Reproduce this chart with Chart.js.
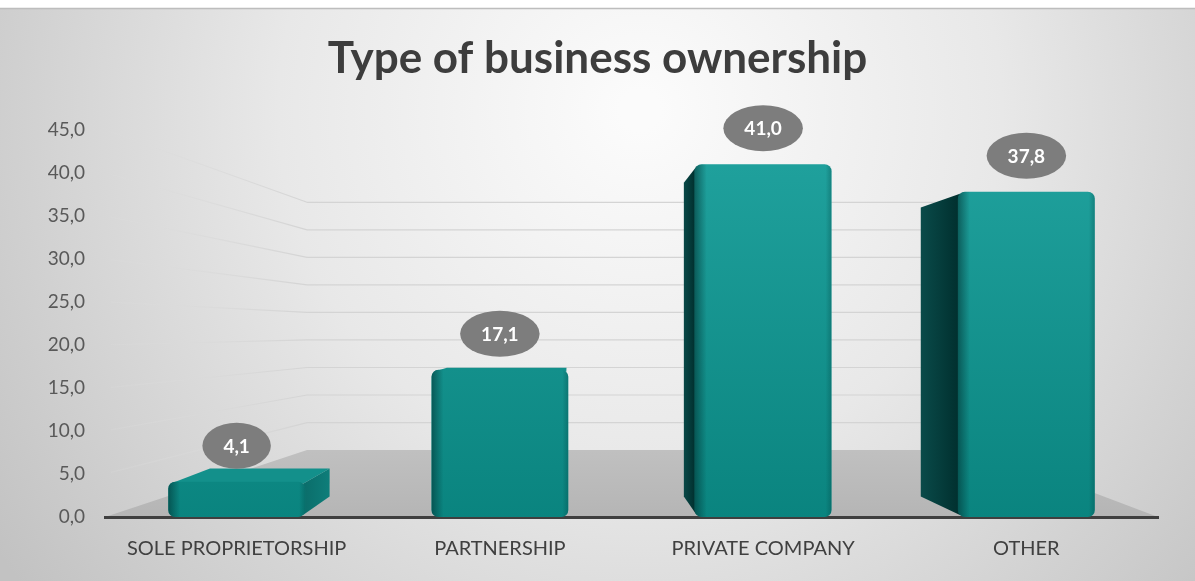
<!DOCTYPE html>
<html>
<head>
<meta charset="utf-8">
<title>Type of business ownership</title>
<script src="https://cdn.jsdelivr.net/npm/chart.js@4.4.1/dist/chart.umd.min.js"></script>
<style>
  html, body { margin: 0; padding: 0; background: #ffffff; }
  #wrap { position: relative; width: 1195px; height: 581px; }
  canvas { display: block; }
</style>
</head>
<body>
<div id="wrap"><canvas id="chart" width="1195" height="581"></canvas></div>
<script>
// Ownership categories and their shares (%)
const categories = ['SOLE PROPRIETORSHIP', 'PARTNERSHIP', 'PRIVATE COMPANY', 'OTHER'];
const shares = [4.1, 17.1, 41.0, 37.8];

// Value axis range
const axisMin = 0;
const axisMax = 45;
const axisStep = 5;

const FONT = 'Lato, "Open Sans", sans-serif';
const fmt = v => Number(v).toFixed(1).replace('.', ',');

// Perspective helpers: walls and bar depth are projected toward
// vanishing points placed inside the plot area.
function vanishingPoint(area, fx) {
  return {
    x: area.left + fx * (area.right - area.left),
    y: area.top + 0.52 * (area.bottom - area.top)
  };
}
function toward(vp, x, y, t) {
  return { x: x + t * (vp.x - x), y: y + t * (vp.y - y) };
}
const WALL_VP = 0.533;
const BAR_VP = 0.44;
const WALL_DEPTH = 0.36;
const BAR_DEPTH = 0.1;

// Backdrop, floor and back-wall gridlines
const stagePlugin = {
  id: 'stage',
  beforeDraw(chart) {
    const { ctx, chartArea: a, width, height } = chart;
    const yScale = chart.scales.y;
    ctx.save();
    // soft radial backdrop
    const g = ctx.createRadialGradient(640, 110, 20, 640, 110, 780);
    g.addColorStop(0, '#fbfbfb');
    g.addColorStop(0.45, '#e8e8e8');
    g.addColorStop(1, '#c2c2c2');
    ctx.fillStyle = g;
    ctx.fillRect(0, 8, width, height - 8);
    ctx.fillStyle = '#ffffff';
    ctx.fillRect(0, 0, width, 8);
    ctx.strokeStyle = '#bdbdbd';
    ctx.lineWidth = 1.5;
    ctx.beginPath();
    ctx.moveTo(0, 8.5);
    ctx.lineTo(width, 8.5);
    ctx.stroke();

    const vp = vanishingPoint(a, WALL_VP);
    const bl = toward(vp, a.left, a.bottom, WALL_DEPTH);
    const br = toward(vp, a.right, a.bottom, WALL_DEPTH);

    // floor
    const fg = ctx.createLinearGradient(0, bl.y, 0, a.bottom);
    fg.addColorStop(0, '#c0c0c0');
    fg.addColorStop(1, '#b5b5b5');
    ctx.fillStyle = fg;
    ctx.beginPath();
    ctx.moveTo(a.left, a.bottom);
    ctx.lineTo(a.right, a.bottom);
    ctx.lineTo(br.x, br.y);
    ctx.lineTo(bl.x, bl.y);
    ctx.closePath();
    ctx.fill();

    // gridlines: slanted along the side wall, then flat across the back wall
    ctx.lineWidth = 1.2;
    for (let v = axisMin + axisStep; v <= axisMax; v += axisStep) {
      const yf = yScale.getPixelForValue(v);
      const back = toward(vp, a.left, yf, WALL_DEPTH);
      const lg = ctx.createLinearGradient(a.left, 0, back.x, 0);
      lg.addColorStop(0, 'rgba(222,222,222,0.15)');
      lg.addColorStop(1, 'rgba(212,212,212,1)');
      ctx.strokeStyle = lg;
      ctx.beginPath();
      ctx.moveTo(a.left + 6, yf + (back.y - yf) * 6 / (back.x - a.left));
      ctx.lineTo(back.x, back.y);
      ctx.stroke();
      ctx.strokeStyle = 'rgba(212,212,212,1)';
      ctx.beginPath();
      ctx.moveTo(back.x, back.y);
      ctx.lineTo(br.x, back.y);
      ctx.stroke();
    }
    ctx.restore();
  }
};

// Side and top faces of each bar, projected toward the vanishing point
const depthPlugin = {
  id: 'depth',
  beforeDatasetsDraw(chart) {
    const { ctx, chartArea: a } = chart;
    const vp = vanishingPoint(a, BAR_VP);
    const meta = chart.getDatasetMeta(0);
    ctx.save();
    meta.data.forEach(bar => {
      const { x, y, base, width } = bar.getProps(['x', 'y', 'base', 'width'], true);
      const x0 = x - width / 2, x1 = x + width / 2;
      const yTop = Math.min(y, base), yBot = Math.max(y, base);
      const face = (p1, p2, fill) => {
        const q1 = toward(vp, p1.x, p1.y, BAR_DEPTH);
        const q2 = toward(vp, p2.x, p2.y, BAR_DEPTH);
        ctx.fillStyle = fill;
        ctx.beginPath();
        ctx.moveTo(p1.x, p1.y);
        ctx.lineTo(p2.x, p2.y);
        ctx.lineTo(q2.x, q2.y);
        ctx.lineTo(q1.x, q1.y);
        ctx.closePath();
        ctx.fill();
      };
      if (x0 > vp.x) {
        const sg = ctx.createLinearGradient(x0, 0, toward(vp, x0, yTop, BAR_DEPTH).x, 0);
        sg.addColorStop(0, '#01302f');
        sg.addColorStop(1, '#0a4c4b');
        face({ x: x0 + 2, y: yTop + 2 }, { x: x0 + 2, y: yBot - 2 }, sg);
      } else if (x1 < vp.x) {
        const sg = ctx.createLinearGradient(x1, 0, toward(vp, x1, yTop, BAR_DEPTH).x, 0);
        sg.addColorStop(0, '#0b6e6b');
        sg.addColorStop(1, '#0e7f7b');
        face({ x: x1 - 2, y: yTop + 2 }, { x: x1 - 2, y: yBot - 2 }, sg);
      }
      if (yTop > vp.y) {
        face({ x: x0 + 2, y: yTop + 2 }, { x: x1 - 2, y: yTop + 2 }, '#13908b');
      }
    });
    ctx.restore();
  },
  afterDatasetsDraw(chart) {
    const { ctx } = chart;
    const meta = chart.getDatasetMeta(0);
    ctx.save();
    // rounded-edge shading on the front faces
    meta.data.forEach(bar => {
      const { x, y, base, width } = bar.getProps(['x', 'y', 'base', 'width'], true);
      const x0 = x - width / 2;
      const h = Math.abs(base - y);
      ctx.save();
      ctx.beginPath();
      ctx.roundRect(x0, Math.min(y, base), width, h, 7);
      ctx.clip();
      const eg = ctx.createLinearGradient(x0, 0, x0 + 12, 0);
      eg.addColorStop(0, 'rgba(0,45,45,0.55)');
      eg.addColorStop(1, 'rgba(0,45,45,0)');
      ctx.fillStyle = eg;
      ctx.fillRect(x0, Math.min(y, base), 12, h);
      const rg = ctx.createLinearGradient(x0 + width - 6, 0, x0 + width, 0);
      rg.addColorStop(0, 'rgba(0,60,60,0)');
      rg.addColorStop(1, 'rgba(0,60,60,0.3)');
      ctx.fillStyle = rg;
      ctx.fillRect(x0 + width - 6, Math.min(y, base), 6, h);
      ctx.restore();
    });
    // value bubbles above the bars
    ctx.font = 'bold 19px ' + FONT;
    ctx.textAlign = 'center';
    ctx.textBaseline = 'middle';
    meta.data.forEach((bar, i) => {
      const { x, y } = bar.getProps(['x', 'y'], true);
      const label = fmt(shares[i]);
      const cy = y - 36;
      const rx = ctx.measureText(label).width / 2 + 21;
      ctx.fillStyle = '#7d7d7d';
      ctx.beginPath();
      ctx.ellipse(x, cy, rx, 23, 0, 0, Math.PI * 2);
      ctx.fill();
      ctx.fillStyle = '#ffffff';
      ctx.fillText(label, x, cy + 1);
    });
    ctx.restore();
  }
};

const ctx = document.getElementById('chart').getContext('2d');
new Chart(ctx, {
  type: 'bar',
  data: {
    labels: categories,
    datasets: [{
      data: shares,
      backgroundColor(c) {
        const a = c.chart.chartArea;
        if (!a) return '#0f8a86';
        const g = c.chart.ctx.createLinearGradient(0, a.top, 0, a.bottom);
        g.addColorStop(0, '#21a39f');
        g.addColorStop(1, '#0a847f');
        return g;
      },
      borderRadius: 7,
      borderSkipped: false,
      categoryPercentage: 1,
      barPercentage: 0.52
    }]
  },
  options: {
    responsive: false,
    animation: false,
    layout: { padding: { left: 37, right: 37, top: 0, bottom: 0 } },
    plugins: {
      legend: { display: false },
      tooltip: { enabled: false },
      title: {
        display: true,
        text: 'Type of business ownership',
        color: '#3d3d3d',
        font: { family: FONT, size: 44, weight: 'bold' },
        padding: { top: 32, bottom: 45 }
      }
    },
    scales: {
      x: {
        z: 1,
        grid: { display: false, drawTicks: false },
        border: { display: true, color: '#3f3f3f', width: 3 },
        ticks: { color: '#404040', font: { family: FONT, size: 20 }, padding: 20, maxRotation: 0 },
        afterFit(s) { s.height = 64; }
      },
      y: {
        min: axisMin,
        max: axisMax,
        grid: { display: false, drawTicks: false },
        border: { display: false },
        ticks: {
          stepSize: axisStep,
          color: '#595959',
          font: { family: FONT, size: 19 },
          padding: 20,
          callback: v => fmt(v)
        },
        afterFit(s) { s.width = 68; }
      }
    }
  },
  plugins: [stagePlugin, depthPlugin]
});
</script>
</body>
</html>
